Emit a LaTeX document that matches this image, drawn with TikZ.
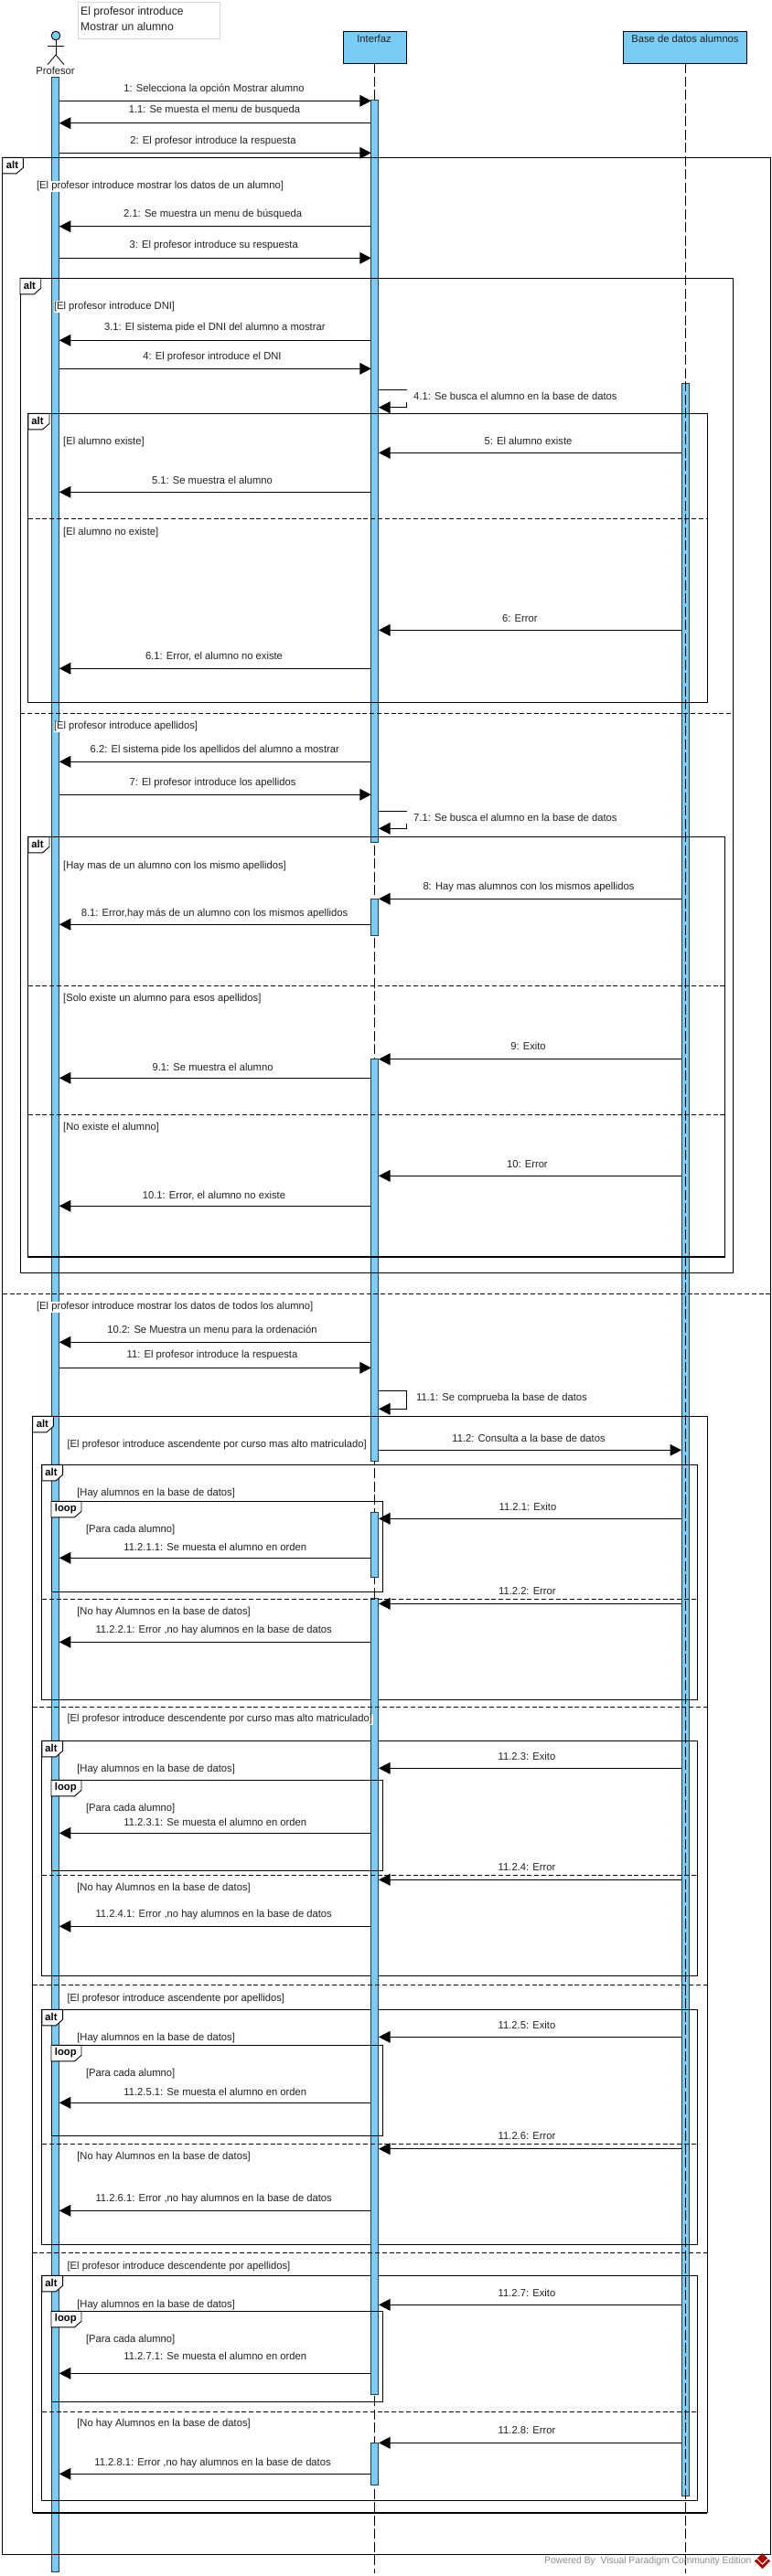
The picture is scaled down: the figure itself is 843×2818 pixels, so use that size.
\documentclass[tikz,border=0pt]{standalone}
\usepackage{fontspec}
\setmainfont[FakeStretch=0.975]{Liberation Sans}
\usetikzlibrary{arrows.meta}
\definecolor{vpblue}{HTML}{7ACCF4}
\definecolor{vptext}{HTML}{222222}
\tikzset{
  framebox/.style={draw=black,line width=0.9pt},
  thickbottom/.style={draw=black,line width=2.4pt},
  tabshape/.style={draw=black,fill=white,line width=0.9pt},
  tabtext/.style={font=\fontsize{11.5}{13}\selectfont\bfseries,inner sep=0pt,text=black},
  sepline/.style={draw=black,line width=0.9pt,dash pattern=on 5pt off 2.8pt},
  lifeline/.style={draw=black,line width=0.7pt,dash pattern=on 11pt off 3.5pt},
  actbar/.style={draw=black!70!vpblue,fill=vpblue,line width=0.9pt},
  msgline/.style={draw=black,line width=1pt,-{Triangle[length=12.5pt,width=12.7pt]}},
  selfline/.style={draw=black,line width=1pt,rounded corners=0pt,-{Triangle[length=12.5pt,width=12.7pt]}},
  msglabel/.style={font=\fontsize{11.5}{13}\selectfont,inner sep=0pt,text=vptext},
  selflabel/.style={font=\fontsize{11.5}{13}\selectfont,anchor=west,fill=white,inner xsep=9.5pt,inner ysep=2pt,text=vptext},
  guardlabel/.style={font=\fontsize{11.5}{13}\selectfont,anchor=west,fill=white,inner xsep=0.5pt,inner ysep=1pt,text=vptext},
  headbox/.style={draw=black,fill=vpblue,line width=1pt,inner sep=0pt},
  headtext/.style={font=\fontsize{11.5}{13}\selectfont,inner sep=0pt,text=vptext},
  actorline/.style={draw=black,line width=0.8pt},
}
% coordinates in reference pixels
\newcommand{\msgL}[5]{% id, line y, label x, label y, text : Interfaz -> Profesor
  \coordinate (#1s) at (405.8,#2); \coordinate (#1e) at (64.8,#2);
  \draw[msgline] (#1s) -- (#1e);
  \node[msglabel] (#1t) at (#3,#4) {#5};}
\newcommand{\msgR}[5]{% Profesor -> Interfaz
  \coordinate (#1s) at (64.8,#2); \coordinate (#1e) at (405.8,#2);
  \draw[msgline] (#1s) -- (#1e);
  \node[msglabel] (#1t) at (#3,#4) {#5};}
\newcommand{\msgD}[5]{% Base de datos -> Interfaz
  \coordinate (#1s) at (745,#2); \coordinate (#1e) at (414,#2);
  \draw[msgline] (#1s) -- (#1e);
  \node[msglabel] (#1t) at (#3,#4) {#5};}
\newcommand{\msgS}[6]{% id, top y, bottom y, label x, label y, text : self message
  \coordinate (#1a) at (414,#2); \coordinate (#1b) at (444,#2);
  \coordinate (#1c) at (444,#3); \coordinate (#1d) at (414,#3);
  \draw[selfline] (#1a) -- (#1b) -- (#1c) -- (#1d);
  \node[selflabel] (#1t) at (#4-9.5,#5) {#6};}
\newcommand{\ftab}[6]{% id, x, y, width, text x, text
  \draw[tabshape] (#2,#3) -- ++(#4,0) -- ++(0,11) -- ++(-7.5,6.6) -- ++(-#4+7.5,0) -- cycle;
  \node[tabtext] (#1) at (#5,#3+8.3) {#6};}
\newcommand{\fframe}[4]{\draw[framebox] (#1,#2) rectangle (#3,#4);}
\newcommand{\altsep}[4]{% id, x1, x2, y
  \coordinate (#1a) at (#2,#4); \coordinate (#1b) at (#3,#4);
  \draw[sepline] (#1a) -- (#1b);}
\newcommand{\guardnode}[4]{\node[guardlabel] (#1) at (#2,#3) {#4};}
\newcommand{\actrect}[3]{\draw[actbar] (#1-4,#2) rectangle (#1+4,#3);}
\begin{document}
\begin{tikzpicture}[x=1pt,y=-1pt]
\useasboundingbox (0,0) rectangle (843,2818);
\fill[white] (0,0) rectangle (843,2818);

% note
\node[draw=black!15,fill=white,line width=0.8pt,minimum width=155pt,minimum height=39.6pt,inner sep=0pt] (note) at (162.5,22.5) {};
\node[font=\fontsize{12.5}{14}\selectfont,anchor=west,inner sep=0pt,text=vptext] (note1) at (88,13) {El profesor introduce};
\node[font=\fontsize{12.5}{14}\selectfont,anchor=west,inner sep=0pt,text=vptext] (note2) at (88,29) {Mostrar un alumno};

% actor
\node[draw=black,fill=vpblue,circle,minimum size=9.6pt,inner sep=0pt,line width=0.9pt] (head) at (61,39) {};
\coordinate (neck) at (61,60);
\coordinate (armL) at (52,50.7); \coordinate (armR) at (70,50.7);
\coordinate (legL) at (52,70.7); \coordinate (legR) at (70,70.7);
\draw[actorline] (head.south) -- (neck);
\draw[actorline] (armL) -- (armR);
\draw[actorline] (legL) -- (neck) -- (legR);
\node[headtext] (actor) at (60.5,77) {Profesor};

% heads
\node[headbox,minimum width=69pt,minimum height=35pt] (iface) at (409.5,51.8) {};
\node[headtext] (ifacet) at (409,42.3) {Interfaz};
\node[headbox,minimum width=134.5pt,minimum height=35pt] (dbase) at (749.2,51.8) {};
\node[headtext] (dbaset) at (749,42.3) {Base de datos alumnos};

% lifelines
\coordinate (ifaceend) at (409,2815);
\coordinate (ifacetop) at (409,69.3);
\coordinate (dbend) at (749,2815);
\coordinate (dbtop) at (749,69.3);
\draw[lifeline] (ifacetop) -- (ifaceend);

% profesor and database bars
\actrect{60.8}{84}{2813.7}
\actrect{749.2}{419.3}{2730.7}
\draw[lifeline] (dbtop) -- (dbend);

% frames under the interfaz bar
\fframe{45.9}{1602.3}{762.5}{1859.3}
\fframe{45.9}{1904.3}{762.5}{2161.3}
\fframe{45.9}{2198.3}{762.5}{2455.3}
\fframe{45.9}{2489.3}{762.5}{2735.3}

% interfaz bars
\actrect{409.9}{109.3}{921.3}
\actrect{409.9}{983.3}{1023.3}
\actrect{409.9}{1158.7}{1598.3}
\actrect{409.9}{1654.3}{1725.7}
\actrect{409.9}{1748.3}{2619.3}
\actrect{409.9}{2672.3}{2718.3}

% frames over the bars
\fframe{2.7}{172.3}{842.5}{2794.3}
\fframe{22}{304.3}{801.4}{1392.3}
\fframe{30.8}{452.3}{773.3}{768.3}
\fframe{30.8}{915.3}{792.2}{1375}
\draw[thickbottom] (30.8,1375) -- (792.2,1375);
\fframe{35.6}{1549.3}{773.3}{2748.7}
\draw[thickbottom] (35.6,2748.7) -- (773.3,2748.7);
\fframe{56}{1642.3}{418.8}{1741.7}
\fframe{56}{1947.3}{418.8}{2046.3}
\fframe{56}{2237.3}{418.8}{2336.3}
\fframe{56}{2528.3}{418.8}{2627.3}

% separators
\altsep{s1}{2.7}{842.5}{1415}
\altsep{s2}{22}{801.4}{780.3}
\altsep{s3}{30.8}{773.3}{567.7}
\altsep{s4}{30.8}{792.2}{1078.3}
\altsep{s5}{30.8}{792.2}{1219.3}
\altsep{s6}{35.6}{773.3}{1867.3}
\altsep{s7}{35.6}{773.3}{2171.3}
\altsep{s8}{35.6}{773.3}{2464.3}
\altsep{s9}{45.9}{762.5}{1749.3}
\altsep{s10}{45.9}{762.5}{2051.3}
\altsep{s11}{45.9}{762.5}{2345.3}
\altsep{s12}{45.9}{762.5}{2638.3}

% tabs
\ftab{tab1}{2.7}{172.3}{22.7}{13.5}{alt}
\ftab{tab2}{22}{304.3}{22.7}{32.4}{alt}
\ftab{tab3}{30.8}{452.3}{23.2}{41}{alt}
\ftab{tab4}{30.8}{915.3}{23.2}{41}{alt}
\ftab{tab5}{35.6}{1549.3}{22.7}{46.4}{alt}
\ftab{tab6}{45.9}{1602.3}{22.7}{56}{alt}
\ftab{tab7}{45.9}{1904.3}{22.7}{56}{alt}
\ftab{tab8}{45.9}{2198.3}{22.7}{56}{alt}
\ftab{tab9}{45.9}{2489.3}{22.7}{56}{alt}
\ftab{loop1}{56}{1642.3}{33}{71.8}{loop}
\ftab{loop2}{56}{1947.3}{33}{71.8}{loop}
\ftab{loop3}{56}{2237.3}{33}{71.8}{loop}
\ftab{loop4}{56}{2528.3}{33}{71.8}{loop}

% guards
\guardnode{g1}{39.4}{204}{[El profesor introduce mostrar los datos de un alumno]}
\guardnode{g2}{58.3}{335.7}{[El profesor introduce DNI]}
\guardnode{g3}{68.5}{483.7}{[El alumno existe]}
\guardnode{g4}{68.5}{582.7}{[El alumno no existe]}
\guardnode{g5}{58.3}{795}{[El profesor introduce apellidos]}
\guardnode{g6}{68.5}{947.3}{[Hay mas de un alumno con los mismo apellidos]}
\guardnode{g7}{68.5}{1092.7}{[Solo existe un alumno para esos apellidos]}
\guardnode{g8}{68.5}{1233.7}{[No existe el alumno]}
\guardnode{g9}{39.4}{1430}{[El profesor introduce mostrar los datos de todos los alumno]}
\guardnode{g10}{72.9}{1581}{[El profesor introduce ascendente por curso mas alto matriculado]}
\guardnode{g11}{83.6}{1633.7}{[Hay alumnos en la base de datos]}
\guardnode{g12}{93.4}{1674}{[Para cada alumno]}
\guardnode{g13}{83.6}{1763.7}{[No hay Alumnos en la base de datos]}
\guardnode{g14}{72.9}{1881}{[El profesor introduce descendente por curso mas alto matriculado]}
\guardnode{g15}{83.6}{1935.7}{[Hay alumnos en la base de datos]}
\guardnode{g16}{93.4}{1978.7}{[Para cada alumno]}
\guardnode{g17}{83.6}{2065.7}{[No hay Alumnos en la base de datos]}
\guardnode{g18}{72.9}{2186}{[El profesor introduce ascendente por apellidos]}
\guardnode{g19}{83.6}{2229.3}{[Hay alumnos en la base de datos]}
\guardnode{g20}{93.4}{2268.3}{[Para cada alumno]}
\guardnode{g21}{83.6}{2359.7}{[No hay Alumnos en la base de datos]}
\guardnode{g22}{72.9}{2479}{[El profesor introduce descendente por apellidos]}
\guardnode{g23}{83.6}{2521}{[Hay alumnos en la base de datos]}
\guardnode{g24}{93.4}{2559.7}{[Para cada alumno]}
\guardnode{g25}{83.6}{2651.7}{[No hay Alumnos en la base de datos]}

% messages
\msgR{ma}{110.3}{234}{97.3}{1: Selecciona la opción Mostrar alumno}
\msgL{mb}{134.7}{234.5}{121}{1.1: Se muesta el menu de busqueda}
\msgR{mc}{167.3}{233}{154.7}{2: El profesor introduce la respuesta}
\msgL{md}{247.7}{232.6}{234.7}{2.1: Se muestra un menu de búsqueda}
\msgR{me}{282.3}{233.7}{268.3}{3: El profesor introduce su respuesta}
\msgL{mf}{372.3}{234.8}{358.3}{3.1: El sistema pide el DNI del alumno a mostrar}
\msgR{mg}{403.3}{232}{390.3}{4: El profesor introduce el DNI}
\msgS{mh}{426.7}{445.7}{452}{433.3}{4.1: Se busca el alumno en la base de datos}
\msgD{mi}{495.3}{577.5}{482.7}{5: El alumno existe}
\msgL{mj}{538.3}{232}{525.7}{5.1: Se muestra el alumno}
\msgD{mk}{689.3}{568.3}{676.7}{6: Error}
\msgL{ml}{731.3}{234}{718.3}{6.1: Error, el alumno no existe}
\msgL{mm}{833.3}{234.8}{820.3}{6.2: El sistema pide los apellidos del alumno a mostrar}
\msgR{mn}{869.3}{232.6}{856.3}{7: El profesor introduce los apellidos}
\msgS{mo}{887.3}{906.3}{452}{894.3}{7.1: Se busca el alumno en la base de datos}
\msgD{mp}{983.3}{578}{970.7}{8: Hay mas alumnos con los mismos apellidos}
\msgL{mq}{1011.3}{234.5}{999.3}{8.1: Error,hay más de un alumno con los mismos apellidos}
\msgD{mr}{1158.7}{577.5}{1144.7}{9: Exito}
\msgL{ms}{1179.3}{232.6}{1167.7}{9.1: Se muestra el alumno}
\msgD{mt}{1286.3}{576.4}{1273.3}{10: Error}
\msgL{mu}{1319.3}{234}{1307.7}{10.1: Error, el alumno no existe}
\msgL{mv}{1468.3}{232}{1455.3}{10.2: Se Muestra un menu para la ordenación}
\msgR{mw}{1496.3}{232}{1483}{11: El profesor introduce la respuesta}
\msgS{mx}{1521.3}{1541.3}{455}{1530}{11.1: Se comprueba la base de datos}
\coordinate (mys) at (414,1586.3); \coordinate (mye) at (745,1586.3);
\draw[msgline] (mys) -- (mye);
\node[msglabel] (myt) at (578,1573.3) {11.2: Consulta a la base de datos};
\msgD{na}{1661.3}{577}{1648.3}{11.2.1: Exito}
\msgL{nb}{1704.3}{235.3}{1692.3}{11.2.1.1: Se muesta el alumno en orden}
\msgD{nc}{1754.3}{576.4}{1740.3}{11.2.2: Error}
\msgL{nd}{1796.3}{233.7}{1783.7}{11.2.2.1: Error ,no hay alumnos en la base de datos}
\msgD{ne}{1934.3}{576}{1921.7}{11.2.3: Exito}
\msgL{nf}{2005.3}{235.3}{1993.3}{11.2.3.1: Se muesta el alumno en orden}
\msgD{ng}{2056.3}{576}{2042.3}{11.2.4: Error}
\msgL{nh}{2107.3}{233.7}{2094.3}{11.2.4.1: Error ,no hay alumnos en la base de datos}
\msgD{ni}{2228.3}{576}{2215.7}{11.2.5: Exito}
\msgL{nj}{2300.3}{235.3}{2288.3}{11.2.5.1: Se muesta el alumno en orden}
\msgD{nk}{2350.7}{576}{2336.7}{11.2.6: Error}
\msgL{nl}{2418.3}{233.7}{2405.7}{11.2.6.1: Error ,no hay alumnos en la base de datos}
\msgD{nm}{2521.3}{576}{2508.7}{11.2.7: Exito}
\msgL{nn}{2596.3}{235.3}{2577.3}{11.2.7.1: Se muesta el alumno en orden}
\msgD{no}{2672.3}{576}{2658.7}{11.2.8: Error}
\msgL{np}{2706.3}{232.6}{2694.3}{11.2.8.1: Error ,no hay alumnos en la base de datos}

% footer
\node[font=\fontsize{10.6}{13}\selectfont,anchor=east,inner sep=0pt,text=black!45] (footer) at (821.5,2801.7) {Powered By \ Visual Paradigm Community Edition};
\fill[red!65!black] (833.5,2793) -- (842,2801.5) -- (833.5,2810) -- (825,2801.5) -- cycle;
\draw[white,line width=1pt] (827.5,2799) -- (833.5,2805) -- (839.5,2799);
\end{tikzpicture}
\end{document}
